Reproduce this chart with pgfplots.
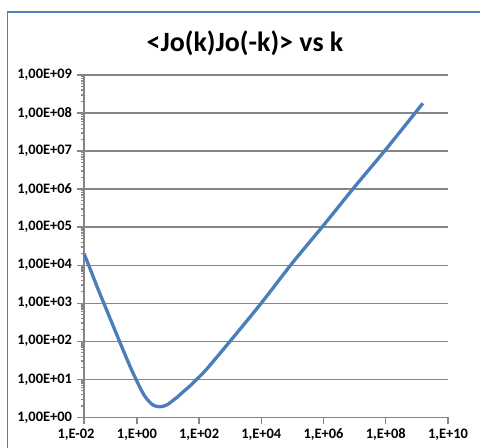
\documentclass[border=0pt]{standalone}
\usepackage{fontspec}
\setmainfont{Carlito}
\usepackage{pgfplots}
\pgfplotsset{compat=1.18}
\definecolor{lineblue}{HTML}{4A7EBB}
\definecolor{frameblue}{HTML}{4F81BD}
\definecolor{gridgray}{HTML}{868686}
\begin{document}
\begin{tikzpicture}
\path[use as bounding box] (0bp,0bp) rectangle (480bp,448bp);
\fill[white] (0bp,0bp) rectangle (480bp,448bp);
\draw[frameblue, line width=1.5bp] (7.5bp,0bp) -- (7.5bp,436bp) -- (480bp,436bp);
\node[font=\bfseries\fontsize{28}{32}\selectfont, anchor=center] at (245bp,405bp) {<Jo(k)Jo(-k)> vs k};
\begin{axis}[
  at={(84bp,30.7bp)}, anchor=south west,
  scale only axis, width=364bp, height=342.3bp,
  xmode=log, ymode=log,
  xmin=0.01995, xmax=1e10, ymin=1, ymax=1e9,
  axis x line*=bottom, axis y line*=left,
  axis line style={gridgray, line width=1.3bp},
  xtick={0.01995,1,1e2,1e4,1e6,1e8,1e10},
  xticklabels={{\hspace*{-16bp}1,E-02},{1,E+00},{1,E+02},{1,E+04},{1,E+06},{1,E+08},{1,E+10}},
  ytick={1,1e1,1e2,1e3,1e4,1e5,1e6,1e7,1e8,1e9},
  yticklabels={{1,00E+00},{1,00E+01},{1,00E+02},{1,00E+03},{1,00E+04},{1,00E+05},{1,00E+06},{1,00E+07},{1,00E+08},{1,00E+09}},
  minor xtick={}, minor ytick={},
  tick align=outside, major tick length=7bp,
  tick style={gridgray, line width=1.3bp},
  ymajorgrids, major grid style={gridgray, line width=1.3bp},
  ticklabel style={font=\bfseries\fontsize{14.5}{16}\selectfont},
  /pgf/number format/assume math mode=true,
  xticklabel style={yshift=-1bp},
  yticklabel style={xshift=-1.5bp},
  clip=false,
]
\addplot[lineblue, line width=3.3bp, smooth, tension=0.5] coordinates {
(0.02,20000) (0.03,8800) (0.05,3000) (0.08,1170) (0.12,522) (0.2,189)
(0.3,84.5) (0.5,31.2) (0.7,16.5) (1,8.9) (1.5,4.58) (2,3.18) (3,2.23)
(4,1.97) (5.5,1.90) (7,1.95) (10,2.2) (15,2.85) (20,3.4) (30,4.6)
(50,6.6) (80,9.6) (150,16.1) (300,31.1) (1000,101) (1e4,1010)
(1e5,1.15e4) (1e6,1.12e5) (1e7,1.15e6) (1e8,1.1e7) (1.55e9,1.8e8)
};
\end{axis}
\end{tikzpicture}
\end{document}
